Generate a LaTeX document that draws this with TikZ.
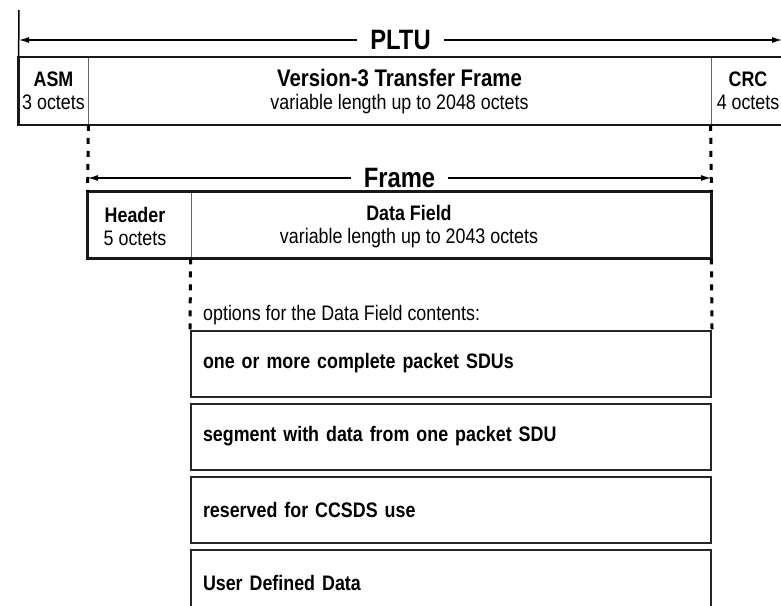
\documentclass[tikz,border=0pt]{standalone}
\usepackage{fontspec}
\setmainfont[FakeStretch=0.85]{Liberation Sans}
\usetikzlibrary{arrows.meta,positioning}

\begin{document}
\begin{tikzpicture}[
    x=1pt, y=-1pt,
    % Fields of a unit
    cell/.style={
        draw=black!60, line width=0.8pt, inner sep=0pt,
        minimum height=67pt, align=center,
        font=\fontsize{21}{23}\selectfont
    },
    % Field text set apart from its cell
    celltext/.style={inner sep=0pt, align=center, font=\fontsize{21}{23}\selectfont},
    % Data Field options
    optbox/.style={
        draw=black!85, line width=2pt, inner xsep=12pt, inner ysep=0pt,
        text width=496pt, minimum height=66pt, align=left,
        font=\fontsize{21}{22}\selectfont\bfseries
    },
    border/.style={draw=black!90, line width=2.5pt},
    extent/.style={draw, line width=1.2pt,
        {Latex[length=10pt,width=6pt]}-{Latex[length=10pt,width=6pt]}},
    guide/.style={draw, line width=3pt, dash pattern=on 6pt off 7pt},
    title/.style={fill=white, inner xsep=13pt, inner ysep=2pt,
        font=\fontsize{28}{28}\selectfont\bfseries}
]
\useasboundingbox (0,0) rectangle (781,605);
\clip (0,0) rectangle (781,605);

% ---- PLTU ----
\node[cell, minimum width=69pt]  (asm) at (53.5,91) {\textbf{ASM}\\3 octets};
\node[cell, minimum width=623pt] (tf)  at (399.5,91)
    {{\fontsize{24}{23}\selectfont\bfseries Version-3 Transfer Frame}\\variable length up to 2048 octets};
\node[cell, minimum width=74pt]  (crc) at (748,91) {\textbf{CRC}\\4 octets};
\draw[border] (asm.north west) rectangle (crc.south east);

\coordinate (pltuL) at (19,10);
\coordinate (pltuR) at (785,10);
\draw[line width=1.5pt] (pltuL) -- (asm.north west);
\draw[line width=1.5pt] (pltuR) -- (crc.north east);
\coordinate (pltuA) at (19,40);
\coordinate (pltuB) at (782,40);
\draw[extent] (pltuA) -- node[title] (pltu) {PLTU} (pltuB);

% ---- FRAME ----
\node[cell, minimum width=103pt, minimum height=66pt] (hdr) at (139.5,225) {};
\node[cell, minimum width=520pt, minimum height=66pt] (df)  at (451,225) {};
\node[celltext] (hdrtxt) at (135,226.5) {\textbf{Header}\\5 octets};
\node[celltext] (dftxt)  at (409,226.5) {\textbf{Data Field}\\variable length up to 2043 octets};
\draw[border] (hdr.north west) rectangle (df.south east);

\draw[guide] (asm.south east) -- (hdr.north west);
\draw[guide] (crc.south west) -- (df.north east);

\coordinate (frameL) at (88,178);
\coordinate (frameR) at (711,178);
\draw[extent] (frameL) -- node[title] (frame) {Frame} (frameR);

% ---- DATA FIELD OPTIONS ----
\node[anchor=west, inner sep=0pt, font=\fontsize{21}{22}\selectfont] (optlbl) at (203,315)
    {options for the Data Field contents:};

\node[optbox] (o1) at (451,363.5) {one or more complete packet SDUs};
\node[optbox, below=5pt of o1] (o2) {segment with data from one packet SDU};
\node[optbox, below=5pt of o2] (o3) {reserved for CCSDS use};
\node[optbox, below=5pt of o3] (o4) {User Defined Data};

\draw[guide] (df.south west) -- (o1.north west);
\draw[guide] (df.south east) -- (o1.north east);

\end{tikzpicture}
\end{document}
